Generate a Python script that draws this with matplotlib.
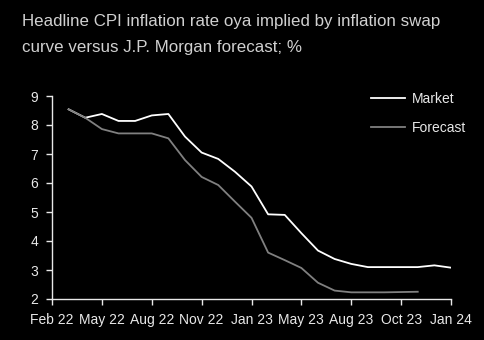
import matplotlib
matplotlib.use("Agg")
import matplotlib.pyplot as plt

plt.rcParams['font.family'] = ['Liberation Sans', 'DejaVu Sans']

# Data (monthly points, index 1..24 on an axis running 0..24)
market_x = list(range(1, 25))
market = [8.54, 8.25, 8.38, 8.14, 8.14, 8.33, 8.38, 7.60, 7.05, 6.83, 6.39, 5.88,
          4.92, 4.90, 4.27, 3.67, 3.38, 3.21, 3.10, 3.10, 3.10, 3.10, 3.16, 3.08]
forecast_x = list(range(1, 23))
forecast = [8.54, 8.25, 7.86, 7.71, 7.71, 7.71, 7.54, 6.79, 6.21, 5.93, 5.36, 4.80,
            3.60, 3.34, 3.07, 2.56, 2.29, 2.23, 2.23, 2.23, 2.24, 2.25]
tick_pos = [0, 3, 6, 9, 12, 15, 18, 21, 24]
tick_labels = ['Feb 22', 'May 22', 'Aug 22', 'Nov 22', 'Jan 23', 'May 23', 'Aug 23', 'Oct 23', 'Jan 24']
y_ticks = [2, 3, 4, 5, 6, 7, 8, 9]

fig = plt.figure(figsize=(4.84, 3.40), dpi=100, facecolor='black')
ax = fig.add_axes([52/484, 1-299/340, (451-52)/484, (299-96)/340], facecolor='black')

ax.plot(market_x, market, color='white', lw=1.3, label='Market')
ax.plot(forecast_x, forecast, color='#808080', lw=1.3, label='Forecast')

ax.set_xlim(0, 24)
ax.set_ylim(2, 9)
ax.set_xticks(tick_pos)
ax.set_xticklabels(tick_labels)
ax.set_yticks(y_ticks)

for s in ['top', 'right']:
    ax.spines[s].set_visible(False)
for s in ['left', 'bottom']:
    ax.spines[s].set_color('#e8e8e8')
    ax.spines[s].set_linewidth(1.0)
ax.tick_params(colors='#e8e8e8', labelsize=10, length=4, width=1.0, direction='out')
ax.tick_params(axis='x', pad=6)
ax.tick_params(axis='y', pad=6)

leg = ax.legend(loc='upper right', bbox_to_anchor=(1.07, 1.08), frameon=False,
                fontsize=10, handlelength=2.5, labelspacing=1.05, handletextpad=0.5)
for t in leg.get_texts():
    t.set_color('#e8e8e8')

fig.text(22/484, 1-26/340, 'Headline CPI inflation rate oya implied by inflation swap',
         color='#d0d0d0', fontsize=12.2, ha='left', va='baseline')
fig.text(22/484, 1-52/340, 'curve versus J.P. Morgan forecast; %',
         color='#d0d0d0', fontsize=12.2, ha='left', va='baseline')

fig.savefig('out.png', dpi=100, facecolor='black')
